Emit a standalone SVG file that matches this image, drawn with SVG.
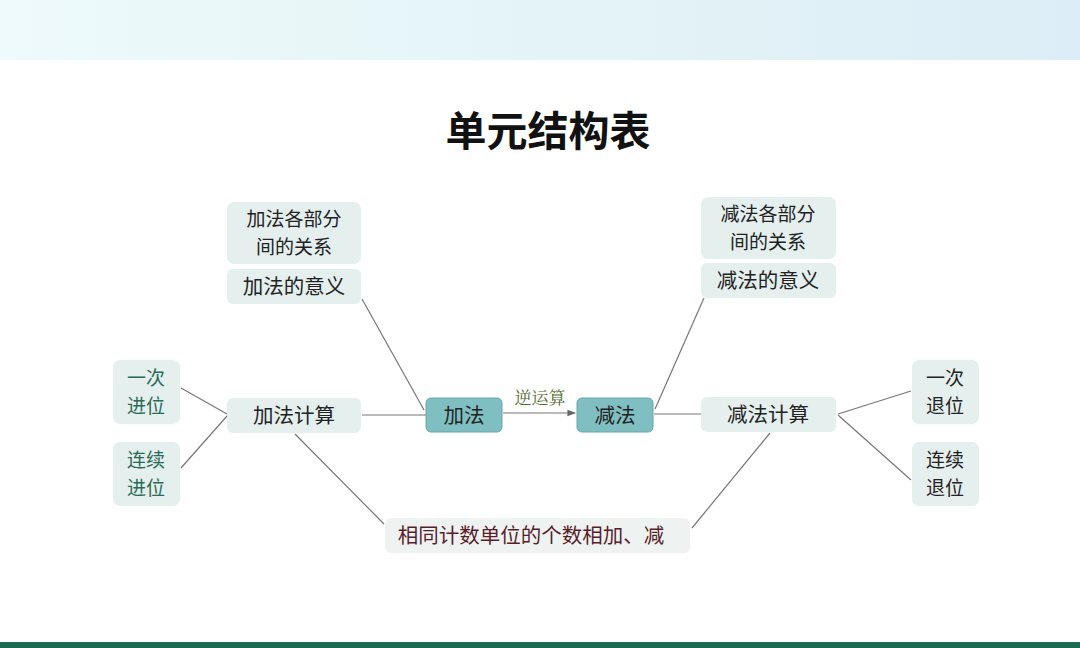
<svg xmlns="http://www.w3.org/2000/svg" width="1080" height="648" viewBox="0 0 1080 648">
<defs>
<linearGradient id="top" x1="0" y1="0" x2="1" y2="0">
<stop offset="0" stop-color="#eefafb"/>
<stop offset="0.5" stop-color="#e4f4f6"/>
<stop offset="1" stop-color="#dcedf7"/>
</linearGradient>
<marker id="arr" viewBox="0 0 10 10" refX="9" refY="5" markerWidth="7" markerHeight="7" orient="auto">
<path d="M0,1 L10,5 L0,9 z" fill="#666"/>
</marker>
<style>
.box{fill:#e4efee;stroke:none}
.main{fill:#7fbfc1;stroke:#6aa5a8;stroke-width:1}
.t{font-family:"Noto Sans CJK SC","Noto Sans",sans-serif;font-size:20.5px;fill:#222;text-anchor:middle}
.m{font-size:19px}
.g{fill:#2b6b55}
.c{stroke:#777;stroke-width:1.2;fill:none}
</style>
</defs>
<rect width="1080" height="648" fill="#ffffff"/>
<rect width="1080" height="60" fill="url(#top)"/>
<rect x="0" y="642" width="1080" height="6" fill="#1b6b52"/>
<text x="548" y="146" font-family="Noto Sans CJK SC, sans-serif" font-size="41" font-weight="bold" fill="#111" text-anchor="middle">单元结构表</text>

<g id="connectors">
<line class="c" x1="362" y1="299" x2="424" y2="410"/>
<line class="c" x1="362" y1="415" x2="426" y2="415"/>
<line class="c" x1="181" y1="388" x2="227" y2="414"/>
<line class="c" x1="181" y1="468" x2="227" y2="416"/>
<line class="c" x1="295" y1="434" x2="384" y2="524"/>
<line class="c" x1="503" y1="413" x2="575" y2="413" marker-end="url(#arr)"/>
<line class="c" x1="654" y1="414" x2="701" y2="414"/>
<line class="c" x1="655" y1="409" x2="704" y2="298"/>
<line class="c" x1="838" y1="414" x2="911" y2="391"/>
<line class="c" x1="838" y1="415" x2="911" y2="480"/>
<line class="c" x1="770" y1="433" x2="692" y2="528"/>
</g>
<text x="540" y="404" font-family="Noto Serif CJK SC, Noto Sans CJK SC, serif" font-size="17" fill="#4f6b2a" text-anchor="middle">逆运算</text>

<g id="add-rel"><rect class="box" x="227" y="202" width="134" height="62" rx="7"/><text class="t m" x="294" y="226">加法各部分</text><text class="t m" x="294" y="254">间的关系</text></g>
<g id="add-mean"><rect class="box" x="227" y="269" width="134" height="35" rx="6"/><text class="t" x="294" y="294">加法的意义</text></g>
<g id="add-once"><rect class="box" x="113" y="360" width="67" height="64" rx="7"/><text class="t m g" x="146" y="385">一次</text><text class="t m g" x="146" y="413">进位</text></g>
<g id="add-cont"><rect class="box" x="113" y="442" width="67" height="64" rx="7"/><text class="t m g" x="146" y="467">连续</text><text class="t m g" x="146" y="495">进位</text></g>
<g id="add-calc"><rect class="box" x="227" y="398" width="134" height="35" rx="6"/><text class="t" x="294" y="423">加法计算</text></g>
<g id="add"><rect class="main" x="426" y="398" width="76" height="34" rx="5"/><text class="t" x="464" y="423">加法</text></g>
<g id="sub"><rect class="main" x="577" y="398" width="76" height="34" rx="5"/><text class="t" x="615" y="423">减法</text></g>
<g id="sub-rel"><rect class="box" x="701" y="197" width="135" height="62" rx="7"/><text class="t m" x="768" y="221">减法各部分</text><text class="t m" x="768" y="249">间的关系</text></g>
<g id="sub-mean"><rect class="box" x="701" y="263" width="135" height="35" rx="6"/><text class="t" x="768" y="288">减法的意义</text></g>
<g id="sub-calc"><rect class="box" x="701" y="397" width="135" height="35" rx="6"/><text class="t" x="768" y="422">减法计算</text></g>
<g id="sub-once"><rect class="box" x="912" y="360" width="67" height="64" rx="7"/><text class="t m" x="945" y="385">一次</text><text class="t m" x="945" y="413">退位</text></g>
<g id="sub-cont"><rect class="box" x="912" y="442" width="67" height="64" rx="7"/><text class="t m" x="945" y="467">连续</text><text class="t m" x="945" y="495">退位</text></g>
<g id="common"><rect class="box" x="385" y="518" width="305" height="35" rx="6" style="fill:#eef3f2"/><text class="t" x="531" y="543" style="fill:#5a1e2a">相同计数单位的个数相加、减</text></g>
</svg>
